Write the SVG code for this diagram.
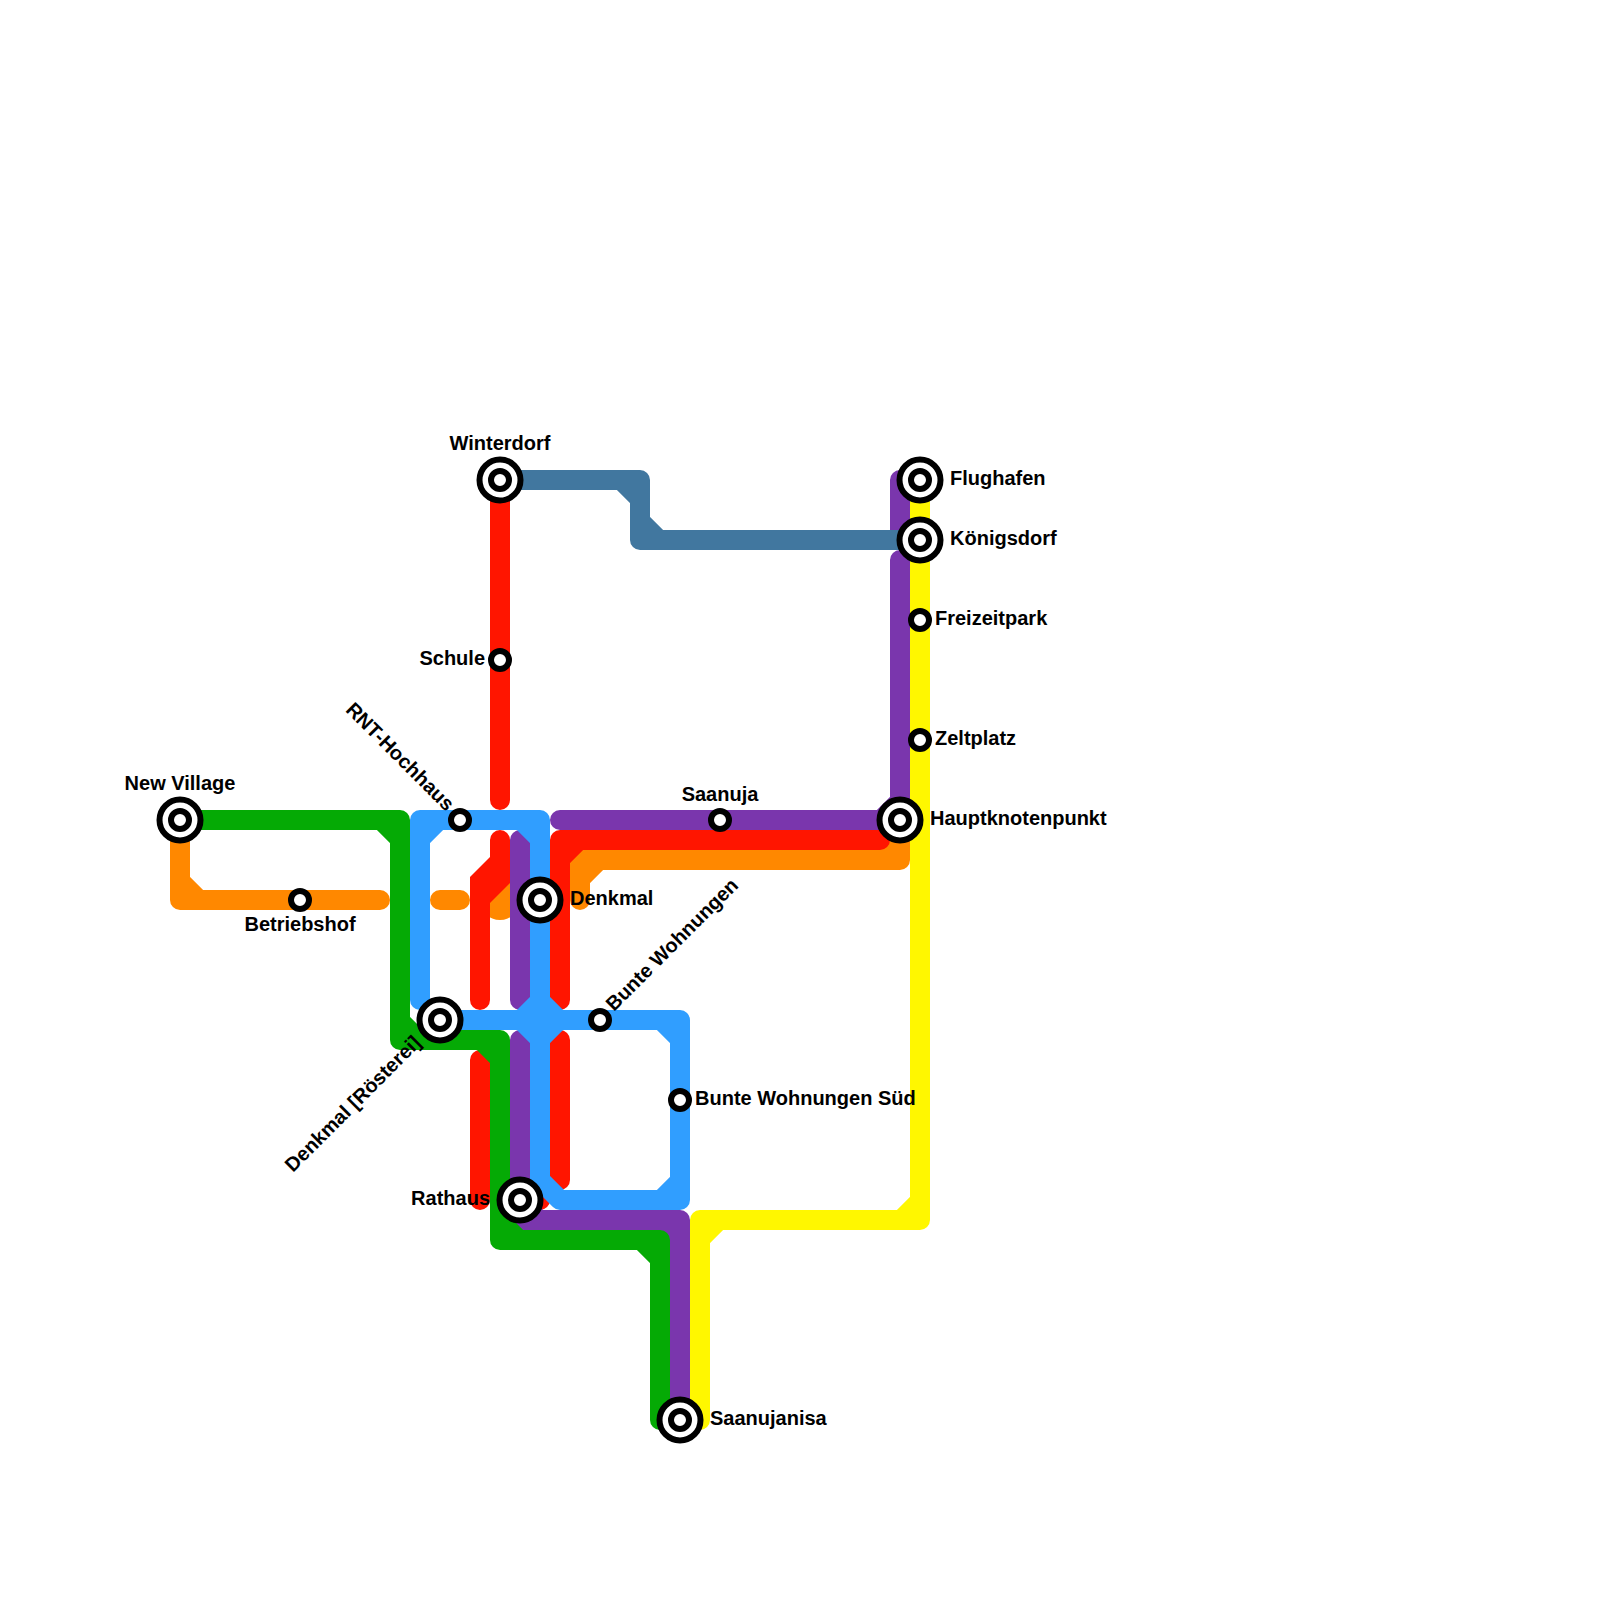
<svg xmlns="http://www.w3.org/2000/svg" width="1600" height="1600" viewBox="0 0 1600 1600">
<style>
.l{fill:none;stroke-width:20;stroke-linecap:round;stroke-linejoin:round}
.o{stroke:#ff8800}.r{stroke:#ff1500}.p{stroke:#7a36ad}.g{stroke:#05aa05}.s{stroke:#41779f}.b{stroke:#309eff}.y{stroke:#fff700}
.big{fill:#fff;stroke:#000;stroke-width:6}
.mid{fill:#fff;stroke:#000;stroke-width:6}
text{font-family:"Liberation Sans",Arial,sans-serif;font-weight:700;font-size:20px;fill:#000}
.m{text-anchor:middle}.e{text-anchor:end}
</style>
<defs>
<g id="hub"><circle r="20.5" class="big"/><circle r="9" class="mid"/></g>
<circle id="stop" r="9" class="mid"/>
</defs>
<g id="connectors">
<circle cx="500" cy="900" r="20" fill="#ff8800"/>
<path class="l o" d="M180 820V900H380M183 884L196 897M440 900H460M580 900V860H900V820M583 876L596 863M884 857L897 844"/>
<path d="M490 840A10 10 0 0 1 510 840V883L490 903V1000A10 10 0 0 1 470 1000V877L490 857Z" fill="#ff1500"/>
<path class="l r" d="M500 480V800M560 1000V840H880M563 856L576 843M480 1060V1200M560 1040V1180M520 1200H540"/>
<path class="l p" d="M900 480V530M900 560V820H560M884 817L897 804M520 840V1000M520 1040V1220H680V1420M523 1204L536 1217M664 1223L677 1236"/>
<path class="l g" d="M180 820H400V1040H500V1240H660V1420M384 823L397 836M403 1024L416 1037M484 1043L497 1056M503 1224L516 1237M644 1243L657 1256"/>
<path class="l s" d="M500 480H640V540H920M624 483L637 496M643 524L656 537"/>
<path class="l b" d="M420 1000V820H540V1180L560 1200H680V1020H440M423 836L436 823M524 823L537 836M664 1197L677 1184M664 1023L677 1036M537 1004L524 1017M543 1004L556 1017M537 1036L524 1023M543 1036L556 1023"/>
<path class="l y" d="M920 480V1220H700V1420M904 1217L917 1204M703 1236L716 1223"/>
</g>
<g id="new-village"><use href="#hub" x="180" y="820"/><text class="m" x="180" y="790">New Village</text></g>
<g id="betriebshof"><use href="#stop" x="300" y="900"/><text class="m" x="300" y="931">Betriebshof</text></g>
<g id="winterdorf"><use href="#hub" x="500" y="480"/><text class="m" x="500" y="450">Winterdorf</text></g>
<g id="schule"><use href="#stop" x="500" y="660"/><text class="e" x="485" y="665">Schule</text></g>
<g id="rnt-hochhaus"><use href="#stop" x="460" y="820"/><text class="e" transform="translate(446 812) rotate(45)">RNT-Hochhaus</text></g>
<g id="denkmal"><use href="#hub" x="540" y="900"/><text x="570" y="905">Denkmal</text></g>
<g id="denkmal-roesterei"><use href="#hub" x="440" y="1020"/><text class="e" transform="translate(422 1044) rotate(-45)">Denkmal [Rösterei]</text></g>
<g id="bunte-wohnungen"><use href="#stop" x="600" y="1020"/><text transform="translate(614 1012) rotate(-45)">Bunte Wohnungen</text></g>
<g id="bunte-wohnungen-sued"><use href="#stop" x="680" y="1100"/><text x="695" y="1105">Bunte Wohnungen Süd</text></g>
<g id="rathaus"><use href="#hub" x="520" y="1200"/><text class="e" x="490" y="1205">Rathaus</text></g>
<g id="saanujanisa"><use href="#hub" x="680" y="1420"/><text x="710" y="1425">Saanujanisa</text></g>
<g id="saanuja"><use href="#stop" x="720" y="820"/><text class="m" x="720" y="801">Saanuja</text></g>
<g id="hauptknotenpunkt"><use href="#hub" x="900" y="820"/><text x="930" y="825">Hauptknotenpunkt</text></g>
<g id="zeltplatz"><use href="#stop" x="920" y="740"/><text x="935" y="745">Zeltplatz</text></g>
<g id="freizeitpark"><use href="#stop" x="920" y="620"/><text x="935" y="625">Freizeitpark</text></g>
<g id="koenigsdorf"><use href="#hub" x="920" y="540"/><text x="950" y="545">Königsdorf</text></g>
<g id="flughafen"><use href="#hub" x="920" y="480"/><text x="950" y="485">Flughafen</text></g>
</svg>
